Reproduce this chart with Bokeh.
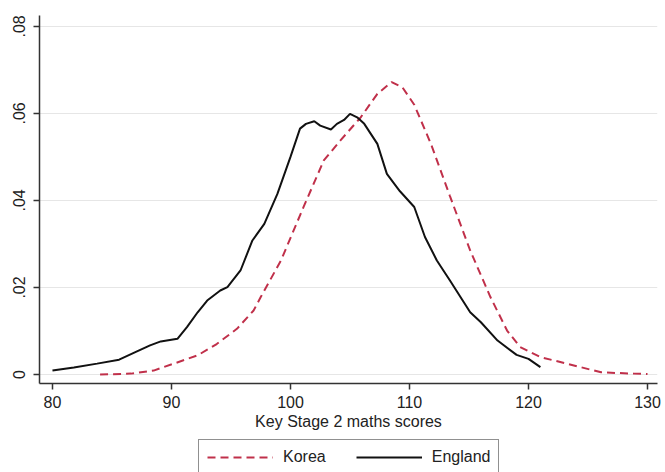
from bokeh.plotting import figure
from bokeh.layouts import column
from bokeh.models import Range1d, FixedTicker, Legend, LegendItem
from bokeh.embed import file_html
from bokeh.resources import INLINE

# England density (Key Stage 2 maths scores)
eng_x = [80.0, 81.8, 83.75, 85.6, 87.1, 88.2, 89.1, 90.5, 91.3, 92.2, 93.0, 94.1, 94.7,
         95.8, 96.8, 97.8, 98.9, 100.0, 100.8, 101.3, 102.0, 102.5, 103.4, 103.9, 104.5,
         105.0, 105.6, 106.2, 107.3, 108.1, 109.2, 110.4, 111.3, 112.3, 113.4, 115.1,
         116.0, 117.4, 119.0, 120.0, 121.0]
eng_y = [0.0009, 0.0016, 0.0025, 0.0034, 0.0053, 0.0067, 0.0076, 0.0082, 0.0109, 0.0143,
         0.0170, 0.0193, 0.0201, 0.0239, 0.0308, 0.0346, 0.0415, 0.0500, 0.0565, 0.0576,
         0.0582, 0.0572, 0.0563, 0.0576, 0.0585, 0.0599, 0.0591, 0.0576, 0.0530, 0.0461,
         0.0421, 0.0385, 0.0316, 0.0262, 0.0216, 0.0143, 0.0120, 0.0078, 0.0045, 0.0036,
         0.0017]

# Korea density
kor_x = [84.0, 86.6, 88.5, 90.2, 92.2, 93.8, 95.5, 96.9, 97.5, 99.2, 101.1, 102.8, 104.2,
         105.9, 107.3, 108.5, 109.4, 110.4, 111.8, 113.4, 115.1, 116.8, 118.2, 119.3,
         121.0, 123.2, 126.1, 128.8, 130.0]
kor_y = [0.0000, 0.0002, 0.0009, 0.0025, 0.0044, 0.0070, 0.0105, 0.0147, 0.0178, 0.0262,
         0.0385, 0.0492, 0.0538, 0.0591, 0.0645, 0.0672, 0.0660, 0.0620, 0.0530, 0.0410,
         0.0285, 0.0178, 0.0101, 0.0063, 0.0040, 0.0025, 0.0005, 0.0002, 0.0001]

x_ticks = [80, 90, 100, 110, 120, 130]
y_ticks = [0, 0.02, 0.04, 0.06, 0.08]
y_tick_labels = ["0", ".02", ".04", ".06", ".08"]
x_title = "Key Stage 2 maths scores"
series_names = ["Korea", "England"]

FONT = "Liberation Sans"
KOREA_STYLE = dict(line_color="#c0304a", line_width=2, line_dash="8 5")
ENGLAND_STYLE = dict(line_color="#111111", line_width=2)

p = figure(frame_width=618, frame_height=368, output_backend="svg", toolbar_location=None,
           x_range=Range1d(78.91, 130.84), y_range=Range1d(-0.00207, 0.0825),
           min_border_left=39, min_border_top=15, min_border_right=8, min_border_bottom=0)
p.outline_line_color = None
p.background_fill_color = "white"
p.border_fill_color = "white"

p.line(kor_x, kor_y, **KOREA_STYLE)
p.line(eng_x, eng_y, **ENGLAND_STYLE)

p.xgrid.grid_line_color = None
p.ygrid.grid_line_color = "#e6e6e6"
p.ygrid.grid_line_width = 1

p.xaxis.ticker = FixedTicker(ticks=x_ticks)
p.yaxis.ticker = FixedTicker(ticks=y_ticks)
p.yaxis.major_label_overrides = {t: l for t, l in zip(y_ticks, y_tick_labels)}
p.yaxis.major_label_orientation = "vertical"

for ax in (p.xaxis, p.yaxis):
    ax.axis_line_color = "#333333"
    ax.axis_line_width = 1.5
    ax.major_tick_line_color = "#333333"
    ax.major_tick_line_width = 1.5
    ax.major_tick_out = 6
    ax.major_tick_in = 0
    ax.minor_tick_line_color = None
    ax.major_label_text_font = FONT
    ax.major_label_text_font_size = "16px"
    ax.major_label_text_color = "#222222"

p.yaxis.major_label_standoff = 8
p.xaxis.major_label_standoff = 6
p.xaxis.axis_label = x_title
p.xaxis.axis_label_text_font = FONT
p.xaxis.axis_label_text_font_size = "16px"
p.xaxis.axis_label_text_font_style = "normal"
p.xaxis.axis_label_text_color = "#222222"
p.xaxis.axis_label_standoff = 2

# legend strip below the chart (series drawn out of view, only legend glyphs show)
lg = figure(width=665, height=40, output_backend="svg", toolbar_location=None,
            x_range=Range1d(0, 1), y_range=Range1d(0, 1),
            min_border=0, background_fill_color="white", border_fill_color="white")
lg.outline_line_color = None
lg.axis.visible = False
lg.grid.visible = False
rk = lg.line(kor_x, kor_y, **KOREA_STYLE)
re_ = lg.line(eng_x, eng_y, **ENGLAND_STYLE)
legend = Legend(items=[LegendItem(label=series_names[0], renderers=[rk]),
                       LegendItem(label=series_names[1], renderers=[re_])],
                orientation="horizontal", location=(159, -3),
                border_line_color="#222222", border_line_width=1.5,
                background_fill_color="white",
                label_text_font=FONT, label_text_font_size="16px",
                label_text_color="#222222",
                glyph_width=66, glyph_height=18, label_height=18,
                label_standoff=10, spacing=30, padding=8, margin=0)
lg.add_layout(legend, "center")

layout = column(p, lg, spacing=0)
open("out.html", "w").write(file_html(layout, INLINE))
